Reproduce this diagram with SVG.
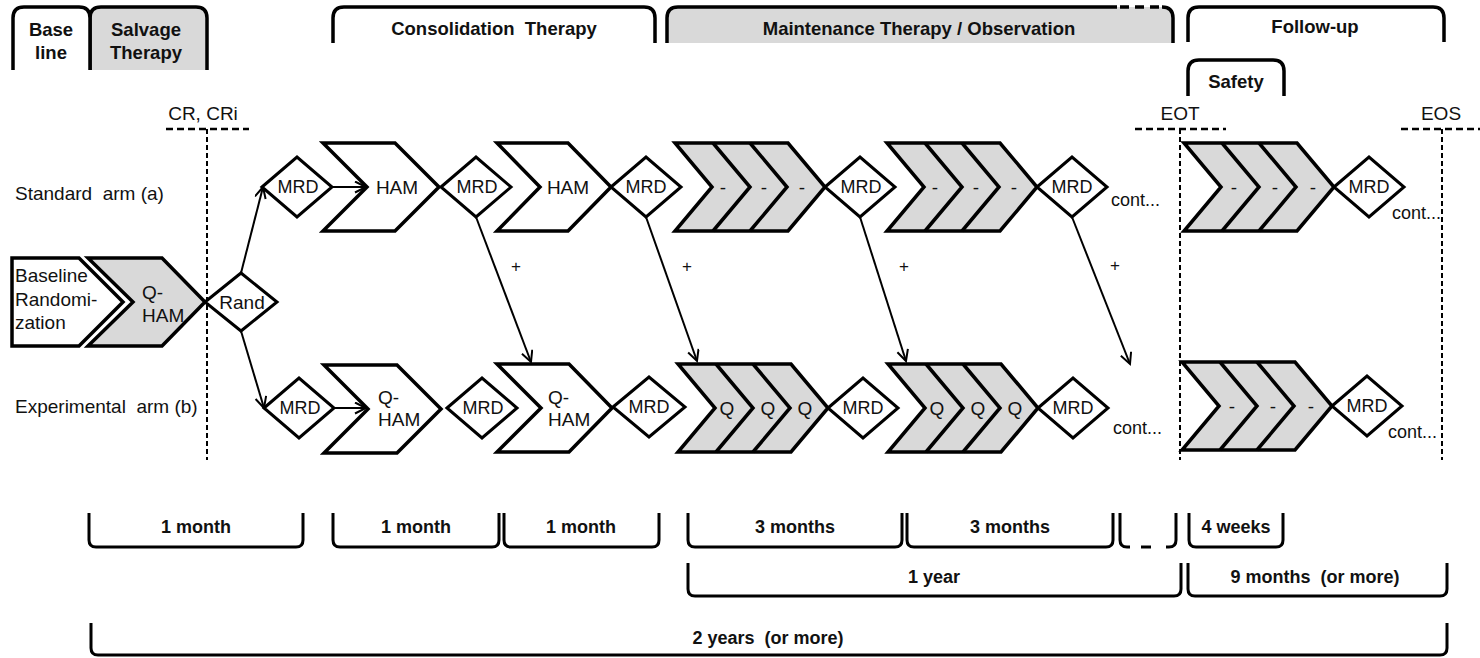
<svg xmlns="http://www.w3.org/2000/svg" width="1480" height="658" viewBox="0 0 1480 658">
<style>
text{font-family:"Liberation Sans",Arial,sans-serif;fill:#111}
.h{font-weight:bold;font-size:18.5px;text-anchor:middle}
.d{font-weight:bold;font-size:18px;text-anchor:middle}
.n{font-size:19px}
.c{font-size:19px;text-anchor:middle}
.m{font-size:18px;text-anchor:middle}
.p{font-size:17px;text-anchor:middle}
.tab{stroke:#000;stroke-width:3.5;fill:#fff}
.tabg{stroke:#000;stroke-width:3.5;fill:#d9d9d9}
.ch{stroke:#000;stroke-width:3.5;fill:#fff;stroke-linejoin:miter}
.chg{stroke:#000;stroke-width:3.5;fill:#d9d9d9;stroke-linejoin:miter}
.il{stroke:#000;stroke-width:3.5;fill:none}
.dia{stroke:#000;stroke-width:3;fill:#fff;stroke-linejoin:miter}
.br{stroke:#000;stroke-width:3;fill:none}
.vd{stroke:#000;stroke-width:2;stroke-dasharray:5 3;fill:none}
.hd{stroke:#000;stroke-width:2.5;stroke-dasharray:7 4;fill:none}
.ar{stroke:#000;stroke-width:2;fill:none;marker-end:url(#ah)}
</style>
<defs>
<marker id="ah" markerUnits="userSpaceOnUse" markerWidth="16" markerHeight="16" refX="12" refY="6" orient="auto">
<path d="M1,0.5 L12,6 L1,11.5" fill="none" stroke="#000" stroke-width="2"/>
</marker>
</defs>

<!-- header tabs -->
<g id="tab-salvage">
<path class="tabg" d="M90,70 L90,18 Q90,7 101,7 L196,7 Q207,7 207,18 L207,70"/>
<text class="h" x="146" y="36">Salvage</text>
<text class="h" x="146" y="59">Therapy</text>
</g>
<g id="tab-baseline">
<path class="tab" d="M13,70 L13,18 Q13,7 24,7 L79,7 Q90,7 90,18 L90,70"/>
<text class="h" x="51" y="36">Base</text>
<text class="h" x="51" y="59">line</text>
</g>
<g id="tab-consolidation">
<path class="tab" d="M333,43 L333,18 Q333,7 344,7 L644,7 Q655,7 655,18 L655,43"/>
<text class="h" x="494" y="35" xml:space="preserve">Consolidation  Therapy</text>
</g>
<g id="tab-maintenance">
<path d="M667,43 L667,18 Q667,7 678,7 L1162,7 Q1173,7 1173,18 L1173,43 Z" fill="#d9d9d9"/>
<path class="br" style="stroke-width:3.5" d="M667,43 L667,18 Q667,7 678,7 L1117,7"/>
<path class="br" style="stroke-width:3.5;stroke-dasharray:9 6" d="M1120,7 L1160,7"/>
<path class="br" style="stroke-width:3.5" d="M1162,7 Q1173,7 1173,18 L1173,43"/>
<text class="h" x="919" y="35">Maintenance Therapy / Observation</text>
</g>
<g id="tab-followup">
<path class="tab" d="M1188,42 L1188,18 Q1188,7 1199,7 L1433,7 Q1444,7 1444,18 L1444,42"/>
<text class="h" x="1315" y="33">Follow-up</text>
</g>
<g id="tab-safety">
<path class="tab" d="M1188,96 L1188,71 Q1188,60 1199,60 L1273,60 Q1284,60 1284,71 L1284,96"/>
<text class="h" x="1236" y="88">Safety</text>
</g>

<!-- milestones -->
<g id="ms-cr">
<text class="c" x="203" y="120">CR, CRi</text>
<path class="hd" d="M166,129 L249,129"/>
<path class="vd" d="M207,129 L207,460"/>
</g>
<g id="ms-eot">
<text class="c" x="1180" y="120">EOT</text>
<path class="hd" d="M1135,129 L1226,129"/>
<path class="vd" d="M1180,129 L1180,460"/>
</g>
<g id="ms-eos">
<text class="c" x="1441" y="120">EOS</text>
<path class="hd" d="M1401,129 L1480,129"/>
<path class="vd" d="M1442,129 L1442,460"/>
</g>

<!-- arm labels -->
<g id="lbl-standard"><text class="n" x="15" y="200" xml:space="preserve">Standard  arm (a)</text></g>
<g id="lbl-experimental"><text class="n" x="15" y="413" xml:space="preserve">Experimental  arm (b)</text></g>

<!-- baseline and salvage -->
<g id="n-baseline">
<polygon class="ch" points="12,258 79,258 123,302 79,346 12,346"/>
<text class="n" x="15" y="282">Baseline</text>
<text class="n" x="15" y="306">Randomi-</text>
<text class="n" x="15" y="329">zation</text>
</g>
<g id="n-salvage-qham">
<polygon class="chg" points="88,258 162,258 205,302 162,346 88,346 133,302"/>
<text class="n" x="142" y="299">Q-</text>
<text class="n" x="142" y="322">HAM</text>
</g>
<g id="n-rand">
<polygon class="dia" points="205,302 241,273 277,302 241,331"/>
<text class="c" x="242" y="309">Rand</text>
</g>

<!-- standard arm -->
<g id="a-mrd1"><polygon class="dia" points="262,187 297,157 332,187 297,217"/><text class="m" x="298" y="193">MRD</text></g>
<g id="a-ham1"><polygon class="ch" points="323,143 395,143 439,187 395,231 323,231 367,187"/><text class="c" x="397" y="194">HAM</text></g>
<g id="a-mrd2"><polygon class="dia" points="441,187 476,157 511,187 476,217"/><text class="m" x="477" y="193">MRD</text></g>
<g id="a-ham2"><polygon class="ch" points="497,143 568,143 611,187 568,231 497,231 540,187"/><text class="c" x="568" y="194">HAM</text></g>
<g id="a-mrd3"><polygon class="dia" points="611,187 646,157 681,187 646,217"/><text class="m" x="646" y="193">MRD</text></g>
<g id="a-maint1">
<polygon class="chg" points="675,143 788,143 825,187 788,231 675,231 712,187"/>
<polyline class="il" points="713,143 750,187 713,231"/>
<polyline class="il" points="750,143 787,187 750,231"/>
<text class="c" x="723" y="194">-</text><text class="c" x="764" y="194">-</text><text class="c" x="802" y="194">-</text>
</g>
<g id="a-mrd4"><polygon class="dia" points="825,187 860,157 895,187 860,217"/><text class="m" x="861" y="193">MRD</text></g>
<g id="a-maint2">
<polygon class="chg" points="887,143 1000,143 1037,187 1000,231 887,231 924,187"/>
<polyline class="il" points="925,143 962,187 925,231"/>
<polyline class="il" points="962,143 999,187 962,231"/>
<text class="c" x="935" y="194">-</text><text class="c" x="976" y="194">-</text><text class="c" x="1014" y="194">-</text>
</g>
<g id="a-mrd5"><polygon class="dia" points="1037,187 1072,157 1107,187 1072,217"/><text class="m" x="1072" y="193">MRD</text></g>
<g id="a-cont1"><text class="n" x="1111" y="206" style="font-size:18px">cont...</text></g>
<g id="a-fu">
<polygon class="chg" points="1184,143 1297,143 1334,187 1297,231 1184,231 1221,187"/>
<polyline class="il" points="1222,143 1259,187 1222,231"/>
<polyline class="il" points="1259,143 1296,187 1259,231"/>
<text class="c" x="1234" y="194">-</text><text class="c" x="1275" y="194">-</text><text class="c" x="1313" y="194">-</text>
</g>
<g id="a-mrd6"><polygon class="dia" points="1334,187 1369,157 1404,187 1369,217"/><text class="m" x="1369" y="193">MRD</text></g>
<g id="a-cont2"><text class="n" x="1392" y="219" style="font-size:18px">cont...</text></g>

<!-- experimental arm -->
<g id="b-mrd1"><polygon class="dia" points="264,408 299,378 334,408 299,438"/><text class="m" x="300" y="414">MRD</text></g>
<g id="b-qham1"><polygon class="ch" points="324,365 397,365 441,409 397,453 324,453 368,409"/><text class="n" x="378" y="404">Q-</text><text class="n" x="378" y="426">HAM</text></g>
<g id="b-mrd2"><polygon class="dia" points="447,408 482,378 517,408 482,438"/><text class="m" x="483" y="414">MRD</text></g>
<g id="b-qham2"><polygon class="ch" points="497,364 569,364 612,408 569,452 497,452 541,408"/><text class="n" x="548" y="404">Q-</text><text class="n" x="548" y="426">HAM</text></g>
<g id="b-mrd3"><polygon class="dia" points="613,407 649,377 685,407 649,437"/><text class="m" x="649" y="413">MRD</text></g>
<g id="b-maint1">
<polygon class="chg" points="678,364 791,364 828,408 791,452 678,452 715,408"/>
<polyline class="il" points="716,364 753,408 716,452"/>
<polyline class="il" points="753,364 790,408 753,452"/>
<text class="c" x="727" y="415">Q</text><text class="c" x="768" y="415">Q</text><text class="c" x="805" y="415">Q</text>
</g>
<g id="b-mrd4"><polygon class="dia" points="828,408 863,378 898,408 863,438"/><text class="m" x="863" y="414">MRD</text></g>
<g id="b-maint2">
<polygon class="chg" points="888,364 1001,364 1038,408 1001,452 888,452 925,408"/>
<polyline class="il" points="926,364 963,408 926,452"/>
<polyline class="il" points="963,364 1000,408 963,452"/>
<text class="c" x="937" y="415">Q</text><text class="c" x="978" y="415">Q</text><text class="c" x="1015" y="415">Q</text>
</g>
<g id="b-mrd5"><polygon class="dia" points="1038,408 1073,378 1108,408 1073,438"/><text class="m" x="1073" y="414">MRD</text></g>
<g id="b-cont1"><text class="n" x="1113" y="434" style="font-size:18px">cont...</text></g>
<g id="b-fu">
<polygon class="chg" points="1182,362 1295,362 1332,406 1295,450 1182,450 1219,406"/>
<polyline class="il" points="1220,362 1257,406 1220,450"/>
<polyline class="il" points="1257,362 1294,406 1257,450"/>
<text class="c" x="1232" y="413">-</text><text class="c" x="1273" y="413">-</text><text class="c" x="1311" y="413">-</text>
</g>
<g id="b-mrd6"><polygon class="dia" points="1332,406 1367,376 1402,406 1367,436"/><text class="m" x="1367" y="412">MRD</text></g>
<g id="b-cont2"><text class="n" x="1388" y="438" style="font-size:18px">cont...</text></g>

<!-- connectors -->
<g id="connectors">
<path class="ar" d="M241,273 L263,187"/>
<path class="ar" d="M241,331 L264,408"/>
<path class="ar" d="M332,187 L366,187"/>
<path class="ar" d="M334,408 L366,408"/>
<path class="ar" d="M476,217 L531,362"/>
<path class="ar" d="M646,217 L697,361"/>
<path class="ar" d="M860,217 L906,361"/>
<path class="ar" d="M1072,217 L1130,364"/>
<text class="p" x="516" y="272">+</text>
<text class="p" x="687" y="272">+</text>
<text class="p" x="904" y="272">+</text>
<text class="p" x="1115" y="271">+</text>
</g>

<!-- duration brackets -->
<g id="dur-1">
<path class="br" d="M89,513 L89,540 Q89,547 96,547 L296,547 Q303,547 303,540 L303,513"/>
<text class="d" x="196" y="533">1 month</text>
</g>
<g id="dur-2">
<path class="br" d="M333,513 L333,540 Q333,547 340,547 L492,547 Q499,547 499,540 L499,513"/>
<text class="d" x="416" y="533">1 month</text>
</g>
<g id="dur-3">
<path class="br" d="M504,513 L504,540 Q504,547 511,547 L652,547 Q659,547 659,540 L659,513"/>
<text class="d" x="581" y="533">1 month</text>
</g>
<g id="dur-4">
<path class="br" d="M688,513 L688,540 Q688,547 695,547 L895,547 Q902,547 902,540 L902,513"/>
<text class="d" x="795" y="533">3 months</text>
</g>
<g id="dur-5">
<path class="br" d="M907,513 L907,540 Q907,547 914,547 L1106,547 Q1113,547 1113,540 L1113,513"/>
<text class="d" x="1010" y="533">3 months</text>
</g>
<g id="dur-6">
<path class="br" d="M1120,513 L1120,540 Q1120,547 1127,547 L1130,547"/>
<path class="br" d="M1141,547 L1151,547"/>
<path class="br" d="M1166,547 L1169,547 Q1176,547 1176,540 L1176,513"/>
</g>
<g id="dur-7">
<path class="br" d="M1189,513 L1189,540 Q1189,547 1196,547 L1276,547 Q1283,547 1283,540 L1283,513"/>
<text class="d" x="1236" y="533">4 weeks</text>
</g>
<g id="dur-8">
<path class="br" d="M688,563 L688,589 Q688,596 695,596 L1174,596 Q1181,596 1181,589 L1181,563"/>
<text class="d" x="934" y="583">1 year</text>
</g>
<g id="dur-9">
<path class="br" d="M1188,563 L1188,589 Q1188,596 1195,596 L1440,596 Q1447,596 1447,589 L1447,563"/>
<text class="d" x="1315" y="583" xml:space="preserve">9 months  (or more)</text>
</g>
<g id="dur-10">
<path class="br" d="M91,623 L91,648 Q91,655 98,655 L1440,655 Q1447,655 1447,648 L1447,623"/>
<text class="d" x="768" y="644" xml:space="preserve">2 years  (or more)</text>
</g>
</svg>
